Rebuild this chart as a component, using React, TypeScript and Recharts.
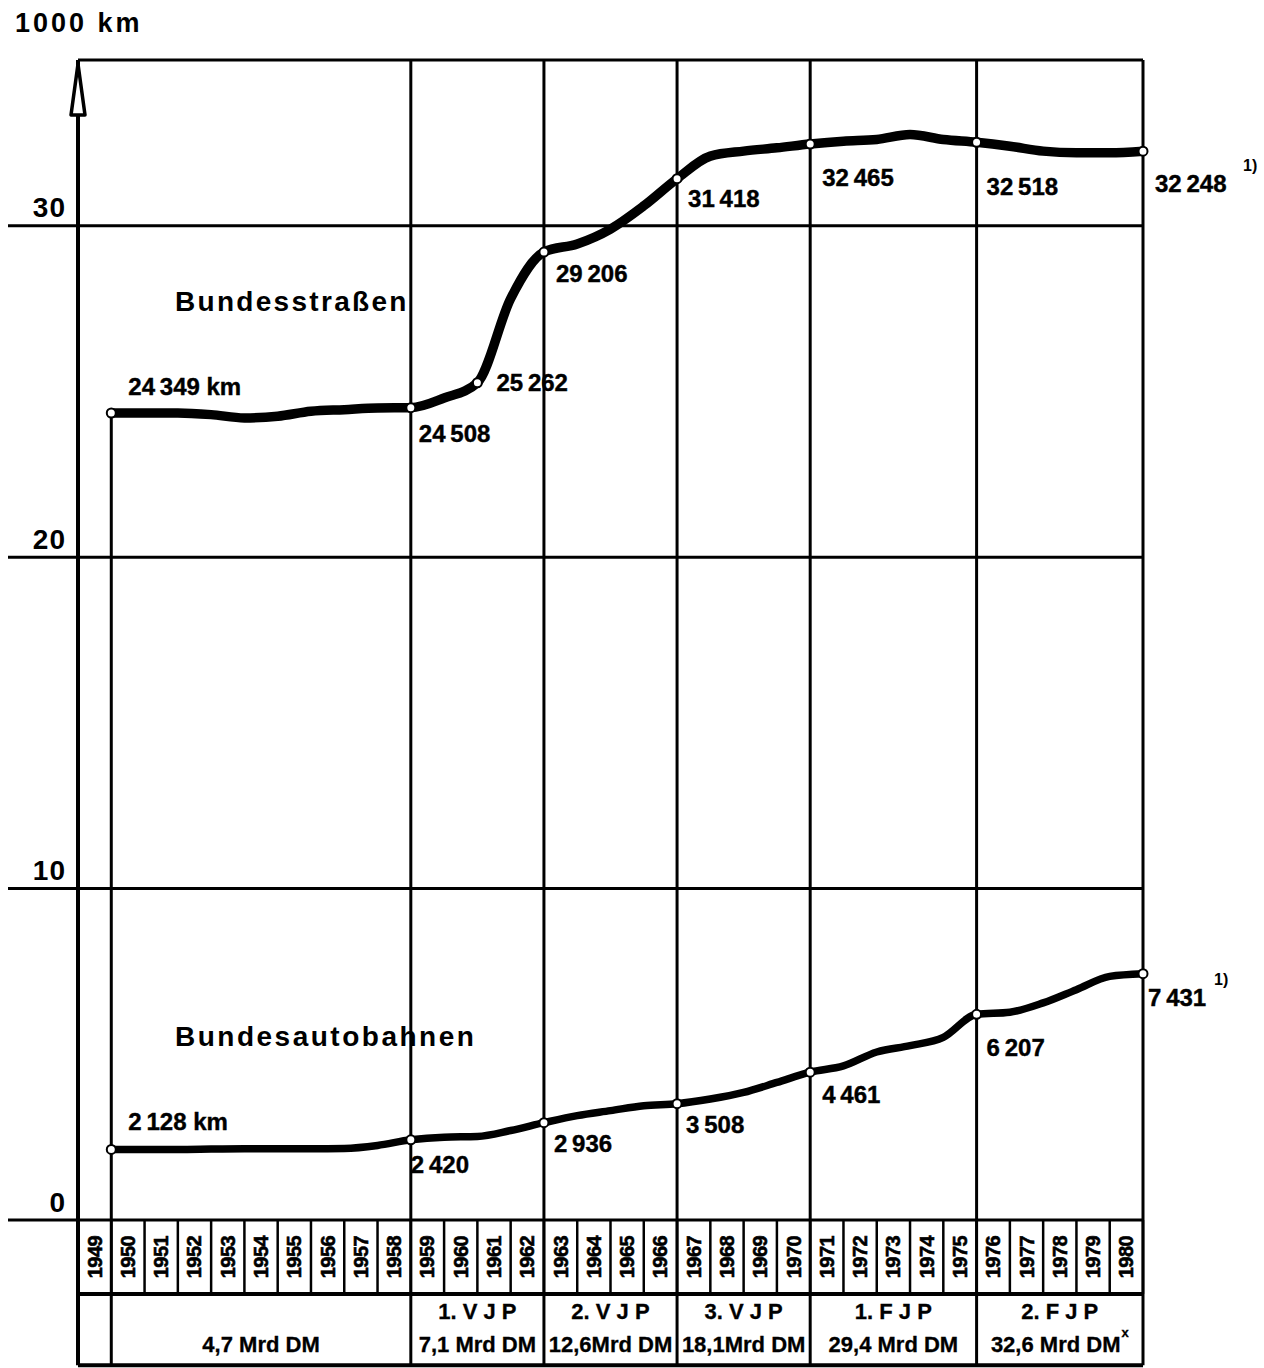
import React from 'react';
import {
  LineChart,
  Line,
  XAxis,
  YAxis,
  CartesianGrid,
  ReferenceLine,
  ReferenceArea,
  ReferenceDot,
  LabelList,
} from 'recharts';

// Jahresende-Werte in 1000 km
const YEARS = [
  1949, 1950, 1951, 1952, 1953, 1954, 1955, 1956, 1957, 1958, 1959, 1960, 1961, 1962, 1963, 1964,
  1965, 1966, 1967, 1968, 1969, 1970, 1971, 1972, 1973, 1974, 1975, 1976, 1977, 1978, 1979, 1980,
];
const STRASSEN = [
  24.349, 24.35, 24.35, 24.3, 24.2, 24.25, 24.4, 24.45, 24.5, 24.508, 24.8, 25.262, 27.8, 29.206, 29.45, 29.9,
  30.6, 31.418, 32.1, 32.25, 32.35, 32.465, 32.55, 32.6, 32.75, 32.6, 32.518, 32.4, 32.25, 32.2, 32.2, 32.248,
];
const AUTOBAHN = [
  2.128, 2.13, 2.13, 2.14, 2.15, 2.15, 2.15, 2.16, 2.25, 2.42, 2.5, 2.52, 2.7, 2.936, 3.15, 3.3,
  3.45, 3.508, 3.65, 3.85, 4.15, 4.461, 4.65, 5.07, 5.26, 5.51, 6.207, 6.27, 6.55, 6.95, 7.35, 7.431,
];

// beschriftete Jahre
const STRASSEN_MARKED = [1949, 1958, 1960, 1962, 1966, 1970, 1975, 1980];
const AUTOBAHN_MARKED = [1949, 1958, 1962, 1966, 1970, 1975, 1980];

// Finanzierungsperioden
const PERIOD_BOUNDS = [1949, 1958, 1962, 1966, 1970, 1975, 1980];
const PERIOD_NAMES = ['', '1. V J P', '2. V J P', '3. V J P', '1. F J P', '2. F J P'];
const PERIOD_FUNDS = ['4,7 Mrd DM', '7,1 Mrd DM', '12,6Mrd DM', '18,1Mrd DM', '29,4 Mrd DM', '32,6 Mrd DM'];
const PERIOD_NOTES = ['', '', '', '', '', 'x'];

const Y_TICKS = [0, 10, 20, 30];

const data = YEARS.map((year, i) => ({ year, strassen: STRASSEN[i], autobahn: AUTOBAHN[i] }));

// label offsets (px) relative to point
const STRASSEN_OFF: Record<number, [number, number]> = {
  1949: [17, -27], 1958: [8, 26], 1960: [19, 0], 1962: [12, 21],
  1966: [11, 20], 1970: [12, 33], 1975: [10, 44], 1980: [12, 32],
};
const AUTOBAHN_OFF: Record<number, [number, number]> = {
  1949: [17, -28], 1958: [0, 25], 1962: [10, 21], 1966: [9, 21],
  1970: [12, 22], 1975: [10, 33], 1980: [5, 24],
};

const FONT = '"Liberation Sans", Arial, sans-serif';
const Y_TOP = 35;
const Y_MID = -2.23;
const Y_BOTTOM = -4.38;
const LINE = '#000';

const fmt = (v: number) => {
  const s = String(Math.round(v * 1000));
  return s.length > 3 ? s.slice(0, -3) + '\u2009' + s.slice(-3) : s;
};

const makeDot = (marked: number[]) => (props: any) => {
  const { cx, cy, index } = props;
  if (!marked.includes(YEARS[index])) return <g key={`d-${index}`} />;
  return <circle key={`d-${index}`} cx={cx} cy={cy} r={4.5} fill="#fff" stroke="#000" strokeWidth={2} />;
};

const makeLabel = (off: Record<number, [number, number]>, supX: number) => (props: any) => {
  const { x, y, index, value } = props;
  const o = off[YEARS[index]];
  if (!o) return null;
  const first = index === 0;
  const last = index === YEARS.length - 1;
  const txt = fmt(value) + (first ? ' km' : '');
  return (
    <g key={`l-${index}`}>
      <text
        x={x + o[0]}
        y={y + o[1]}
        dominantBaseline="central"
        fontFamily={FONT}
        fontWeight={700}
        fontSize={24}
        fill="#000"
        stroke="#000"
        strokeWidth={0.4}
      >
        {txt}
      </text>
      {last && (
        <text x={x + o[0] + supX} y={y + o[1] - 18} dominantBaseline="central" fontFamily={FONT} fontWeight={700} fontSize={16} fill="#000">
          1)
        </text>
      )}
    </g>
  );
};

const YTick = (props: any) => {
  const { x, y, payload } = props;
  return (
    <g>
      <line x1={8} x2={x} y1={y} y2={y} stroke={LINE} strokeWidth={3} />
      <text x={x - 12} y={y - 18} textAnchor="end" dominantBaseline="central" fontFamily={FONT} fontWeight={700} fontSize={28} letterSpacing={1}>
        {payload.value}
      </text>
    </g>
  );
};

const XTick = (props: any) => {
  const { x, y, payload } = props;
  const cy = y + 37;
  return (
    <text
      x={x}
      y={cy}
      transform={`rotate(-90 ${x} ${cy})`}
      textAnchor="middle"
      dominantBaseline="central"
      fontFamily={FONT}
      fontWeight={700}
      fontSize={20}
      letterSpacing={-0.5}
      fill="#000"
      stroke="#000"
      strokeWidth={0.6}
    >
      {Math.round(payload.value + 0.5)}
    </text>
  );
};

const PlanLabel = (props: any) => {
  const { viewBox, name, funds, note } = props;
  const cx = viewBox.x + viewBox.width / 2;
  return (
    <g fontFamily={FONT} fontWeight={700} fontSize={22} fill="#000" stroke="#000" strokeWidth={0.3}>
      {name && (
        <text x={cx} y={viewBox.y + 18} textAnchor="middle" dominantBaseline="central">
          {name}
        </text>
      )}
      <text x={cx} y={viewBox.y + 51} textAnchor="middle" dominantBaseline="central">
        {funds}
        {note && (
          <tspan fontSize={13} dx={1} dy={-13}>
            {note}
          </tspan>
        )}
      </text>
    </g>
  );
};

export default function App() {
  const yearEdges = [1948, ...YEARS];
  return (
    <div style={{ position: 'absolute', left: 0, top: 0, width: 1264, height: 1368, background: '#fff' }}>
      <div
        style={{
          position: 'absolute',
          left: 15,
          top: 8,
          fontFamily: FONT,
          fontWeight: 700,
          fontSize: 27,
          letterSpacing: 3,
          color: '#000',
        }}
      >
        1000 km
      </div>
      <LineChart width={1264} height={1368} data={data} margin={{ top: 60, right: 121, bottom: 0, left: 0 }}>
        <CartesianGrid vertical={false} stroke={LINE} strokeWidth={3} />
        <XAxis
          dataKey="year"
          type="number"
          domain={[1948, 1980]}
          ticks={YEARS.map((y) => y - 0.5)}
          interval={0}
          height={148}
          tickSize={0}
          tickMargin={0}
          axisLine={false}
          tick={<XTick />}
        />
        <YAxis
          type="number"
          domain={[0, Y_TOP]}
          ticks={Y_TICKS}
          width={78}
          tickSize={0}
          tickMargin={0}
          axisLine={false}
          tick={<YTick />}
        />

        {/* Jahreszellen */}
        {yearEdges.map((x) => (
          <ReferenceLine
            key={`ye-${x}`}
            segment={[{ x, y: 0 }, { x, y: Y_MID }]}
            ifOverflow="visible"
            stroke={LINE}
            strokeWidth={2.5}
          />
        ))}
        <ReferenceLine
          segment={[{ x: 1948, y: Y_MID }, { x: 1980, y: Y_MID }]}
          ifOverflow="visible"
          stroke={LINE}
          strokeWidth={4}
        />
        <ReferenceLine
          segment={[{ x: 1948, y: Y_BOTTOM }, { x: 1980, y: Y_BOTTOM }]}
          ifOverflow="visible"
          stroke={LINE}
          strokeWidth={4}
        />

        {/* Periodengrenzen */}
        <ReferenceLine
          segment={[{ x: 1949, y: Y_BOTTOM }, { x: 1949, y: STRASSEN[0] }]}
          ifOverflow="visible"
          stroke={LINE}
          strokeWidth={3}
        />
        {PERIOD_BOUNDS.slice(1).map((x) => (
          <ReferenceLine
            key={`pb-${x}`}
            segment={[{ x, y: Y_BOTTOM }, { x, y: Y_TOP }]}
            ifOverflow="visible"
            stroke={LINE}
            strokeWidth={3}
          />
        ))}
        <ReferenceLine
          segment={[{ x: 1948, y: Y_BOTTOM }, { x: 1948, y: Y_TOP }]}
          ifOverflow="visible"
          stroke={LINE}
          strokeWidth={4}
        />
        <ReferenceDot
          x={1948}
          y={Y_TOP}
          ifOverflow="visible"
          shape={(p: any) => (
            <path
              d={`M${p.cx},${p.cy + 4} L${p.cx - 7},${p.cy + 55} L${p.cx + 7},${p.cy + 55} Z`}
              fill="#fff"
              stroke="#000"
              strokeWidth={3.5}
              strokeLinejoin="round"
            />
          )}
        />

        {/* Finanzierung */}
        {PERIOD_NAMES.map((name, i) => (
          <ReferenceArea
            key={`pa-${i}`}
            x1={PERIOD_BOUNDS[i]}
            x2={PERIOD_BOUNDS[i + 1]}
            y1={Y_BOTTOM}
            y2={Y_MID}
            ifOverflow="visible"
            fill="none"
            fillOpacity={0}
            stroke="none"
            label={(lp: any) => <PlanLabel {...lp} name={name} funds={PERIOD_FUNDS[i]} note={PERIOD_NOTES[i]} />}
          />
        ))}

        <Line
          type="monotone"
          dataKey="strassen"
          stroke={LINE}
          strokeWidth={9.5}
          strokeLinecap="round"
          dot={makeDot(STRASSEN_MARKED)}
          isAnimationActive={false}
        >
          <LabelList dataKey="strassen" content={makeLabel(STRASSEN_OFF, 88)} />
        </Line>
        <Line
          type="monotone"
          dataKey="autobahn"
          stroke={LINE}
          strokeWidth={7.5}
          strokeLinecap="round"
          dot={makeDot(AUTOBAHN_MARKED)}
          isAnimationActive={false}
        >
          <LabelList dataKey="autobahn" content={makeLabel(AUTOBAHN_OFF, 66)} />
        </Line>

        <ReferenceDot
          x={1954}
          y={27.7}
          ifOverflow="visible"
          shape={(p: any) => (
            <text x={175} y={p.cy} dominantBaseline="central" fontFamily={FONT} fontWeight={700} fontSize={28} letterSpacing={2.3}>
              Bundesstraßen
            </text>
          )}
        />
        <ReferenceDot
          x={1954}
          y={5.55}
          ifOverflow="visible"
          shape={(p: any) => (
            <text x={175} y={p.cy} dominantBaseline="central" fontFamily={FONT} fontWeight={700} fontSize={28} letterSpacing={2.5}>
              Bundesautobahnen
            </text>
          )}
        />
      </LineChart>
    </div>
  );
}
